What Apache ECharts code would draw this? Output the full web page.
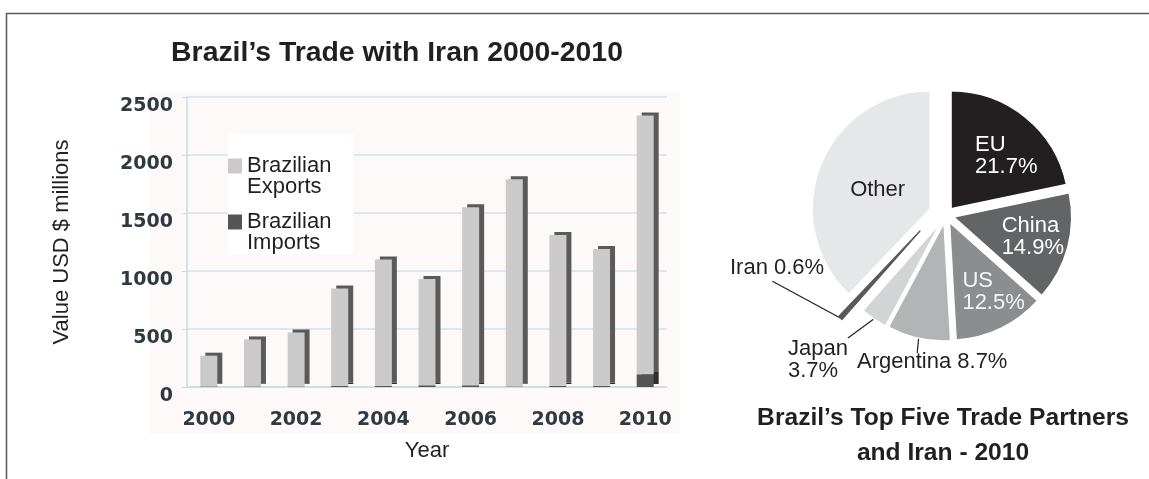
<!DOCTYPE html>
<html>
<head>
<meta charset="utf-8">
<script src="https://cdn.jsdelivr.net/npm/echarts@6/dist/echarts.min.js"></script>
<style>
html,body{margin:0;padding:0;background:#fff;}
#chart{width:1149px;height:479px;}
</style>
</head>
<body>
<div id="chart"></div>
<script>
// ---- data ----
const years = ['2000','2001','2002','2003','2004','2005','2006','2007','2008','2009','2010'];
const exportsValues = [265, 405, 465, 840, 1090, 915, 1535, 1785, 1300, 1180, 2230];
const importsValues = [5, 5, 5, 10, 10, 15, 15, 5, 10, 10, 110];
const yMin = 0;
const yMax = 2500;
const yStep = 500;
const partners = ['EU', 'China', 'US', 'Argentina', 'Japan', 'Iran', 'Other'];
const partnerShares = [21.7, 14.9, 12.5, 8.7, 3.7, 0.6, 37.9];
const barTitle = 'Brazil\u2019s Trade with Iran 2000-2010';
const pieTitle = 'Brazil\u2019s Top Five Trade Partners\nand Iran - 2010';
const exportsName = 'Brazilian\nExports';
const importsName = 'Brazilian\nImports';

// ---- styling ----
const FONT = 'Liberation Sans, Arial, sans-serif';
const TICKFONT = 'DejaVu Sans, Verdana, sans-serif';
const PIE_CENTER = [946, 215];
const PIE_R = 118;
const pieColors = {EU:'#231f20', China:'#636466', US:'#8c8d8f', Argentina:'#b3b4b6', Japan:'#d3d4d6', Iran:'#58595b', Other:'#e6e7e8'};
const pieBorder = {Iran:{borderColor:'#58595b', borderWidth:1.2}};
const labelFormat = {EU:'{b}\n{c}%', China:'{b}\n{c}%', US:'{b}\n{c}%', Argentina:'{b} {c}%', Japan:'{b}\n{c}%', Iran:'{b} {c}%', Other:'{b}'};
const insideColor = {EU:'#ffffff', China:'#ffffff', US:'#f4f4f4', Other:'#231f20'};
// label placement tweaks (inside: offsets from default spot; outside: text box + leader end)
const labelAdjust = {
  EU:{dx:-15, dy:-5, align:'left'},
  China:{dx:-12, dy:4, align:'left'},
  US:{dx:-14, dy:14, align:'left'},
  Other:{dx:5, dy:4, align:'center'},
  Iran:{x:730, y:257, ax:0.45, ay:1.1},
  Japan:{x:788, y:338, ax:1, ay:0},
  Argentina:{x:857, y:351, ax:0.4, ay:0.1}
};
// slice separation: radial pull for selected groups, fixed nudge for the others
const pieGroups = [
  {names:['EU','China','US'], offset:8, shift:[0,0], selected:true},
  {names:['Other'], offset:17, shift:[0,0], selected:true},
  {names:['Argentina'], offset:0, shift:[-2,8], selected:false},
  {names:['Japan'], offset:0, shift:[-5,7], selected:false},
  {names:['Iran'], offset:0, shift:[-26,16], selected:false}
];

function makePie(group) {
  return {
    type:'pie', center:[PIE_CENTER[0] + group.shift[0], PIE_CENTER[1] + group.shift[1]], radius:PIE_R,
    startAngle:90, clockwise:true,
    selectedMode:'multiple', selectedOffset:group.offset, silent:true, animation:false,
    avoidLabelOverlap:false,
    labelLayout: function (p) {
      const n = partners[p.dataIndex];
      const a = labelAdjust[n];
      if (!a || group.names.indexOf(n) < 0) return {};
      if (a.x != null) {
        const w = p.labelRect.width, h = p.labelRect.height;
        const s = p.labelLinePoints && p.labelLinePoints[0];
        const out = {x:a.x, y:a.y, align:'left', verticalAlign:'top'};
        if (s) out.labelLinePoints = [[s[0], s[1]], [a.x + a.ax * w, a.y + a.ay * h]];
        return out;
      }
      return {dx:a.dx, dy:a.dy, align:a.align};
    },
    data: partners.map(function (n, i) {
      const vis = group.names.indexOf(n) >= 0;
      const inside = insideColor[n] != null;
      const border = pieBorder[n] || {borderColor:'#ffffff', borderWidth:1.5};
      return {
        name:n, value:partnerShares[i], selected:vis && group.selected,
        itemStyle: vis ? Object.assign({color:pieColors[n]}, border) : {color:'rgba(0,0,0,0)', borderWidth:0},
        label: {
          show:vis, position: inside ? 'inside' : 'outside',
          formatter: labelFormat[n], fontFamily:FONT, fontSize:22, lineHeight:22,
          color: inside ? insideColor[n] : '#231f20'
        },
        labelLine: {show: vis && !inside, length:10, length2:0, lineStyle:{color:'#231f20', width:1.2}}
      };
    })
  };
}

const chart = echarts.init(document.getElementById('chart'), null, {renderer:'canvas'});
const barShadow = {shadowBlur:0, shadowOffsetX:5, shadowOffsetY:-3};

chart.setOption({
  animation:false,
  backgroundColor:'#ffffff',
  title:[
    {text:barTitle, left:397, top:39, textAlign:'center', padding:0,
     textStyle:{fontFamily:FONT, fontWeight:'bold', fontSize:28.4, color:'#231f20'}},
    {text:pieTitle, left:943, top:401, textAlign:'center', padding:0,
     textStyle:{fontFamily:FONT, fontWeight:'bold', fontSize:24.6, lineHeight:35, color:'#231f20'}}
  ],
  graphic:[
    {type:'rect', z:-10, silent:true, shape:{x:150, y:92, width:530, height:342}, style:{fill:'#fdf9f8'}},
    {type:'rect', silent:true, shape:{x:6.5, y:13.5, width:1300, height:700}, style:{fill:'none', stroke:'#58595b', lineWidth:1.5}}
  ],
  legend:{
    data:[exportsName, importsName], orient:'vertical', left:228, top:134,
    itemWidth:14, itemHeight:15, itemGap:-8, icon:'rect', selectedMode:false,
    backgroundColor:'#ffffff', padding:[0,22,0,0],
    formatter:function (name) { return '\n' + name; },
    itemStyle:{shadowBlur:0, shadowOffsetX:0, shadowOffsetY:0, shadowColor:'rgba(0,0,0,0)'},
    textStyle:{fontFamily:FONT, fontSize:22, lineHeight:21, color:'#231f20'}
  },
  grid:{left:187, right:482, top:97, bottom:92},
  xAxis:{
    type:'category', data:years, boundaryGap:true,
    name:'Year', nameLocation:'middle', nameGap:53,
    nameTextStyle:{fontFamily:FONT, fontSize:22, color:'#231f20'},
    axisLine:{show:true, lineStyle:{color:'#c6dbe6', width:1.5}},
    axisTick:{show:false},
    axisLabel:{interval:1, margin:24, fontFamily:TICKFONT, fontWeight:'bold', fontSize:19, color:'#2e3a40'}
  },
  yAxis:{
    type:'value', min:yMin, max:yMax, interval:yStep,
    name:'Value USD $ millions', nameLocation:'middle', nameGap:114, nameRotate:90,
    nameTextStyle:{fontFamily:FONT, fontSize:22, color:'#231f20'},
    axisLine:{show:true, lineStyle:{color:'#c6dbe6', width:1.5}},
    axisTick:{show:true, length:5, lineStyle:{color:'#c6dbe6'}},
    splitLine:{show:true, lineStyle:{color:'#cfe2ec', width:1.5}},
    axisLabel:{margin:14, verticalAlign:'top', fontFamily:TICKFONT, fontWeight:'bold', fontSize:19, color:'#2e3a40',
      formatter:function (v) { return String(v); }}
  },
  series:[
    {name:importsName, type:'bar', stack:'trade', data:importsValues, barWidth:17,
     itemStyle:Object.assign({color:'#555555', shadowColor:'#2e2e2e'}, barShadow)},
    {name:exportsName, type:'bar', stack:'trade', data:exportsValues, barWidth:17,
     itemStyle:Object.assign({color:'#cacaca', shadowColor:'#5a5a5a'}, barShadow)}
  ].concat(pieGroups.map(makePie))
});
</script>
</body>
</html>
